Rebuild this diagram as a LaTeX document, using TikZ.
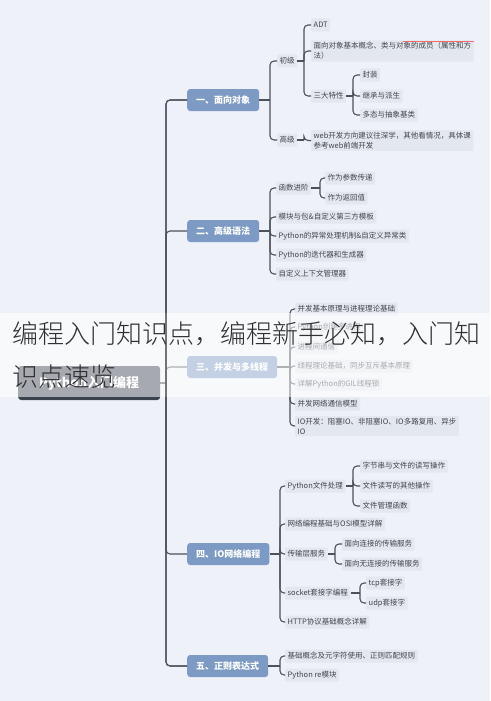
\documentclass[tikz,border=0pt]{standalone}
\usepackage{fontspec}
\setmainfont{Noto Sans CJK SC}
\IfFontExistsTF{Noto Sans CJK SC Light}
  {\newfontfamily\titlefont{Noto Sans CJK SC Light}}
  {\newfontfamily\titlefont{Noto Sans CJK SC}}
\usepackage{tikz}
\usetikzlibrary{calc}

\definecolor{bgc}{RGB}{238,242,248}
\definecolor{leafc}{RGB}{227,231,238}
\definecolor{secc}{RGB}{125,154,196}
\definecolor{rootc}{RGB}{58,66,80}
\definecolor{linec}{RGB}{76,81,90}
\definecolor{txtc}{RGB}{68,70,76}
\definecolor{ttlc}{RGB}{48,48,50}

\newcommand\fork[3]{%
  \draw[link] (#1.east) -- (#1.east -| #2);
  \foreach \c in {#3} {\draw[link] (#1.east -| #2) |- (\c.west);}}

\begin{document}
\begin{tikzpicture}[x=1pt,y=-1pt,
  leaf/.style={anchor=west,fill=leafc,text=txtc,font=\fontsize{7.5}{10}\selectfont,
    inner xsep=2.5pt,inner ysep=2pt,minimum height=13pt,rounded corners=1pt,align=left},
  sec/.style={anchor=west,fill=secc,text=white,font=\fontsize{9}{11}\selectfont\bfseries,
    rounded corners=3pt,minimum height=22pt,inner xsep=9pt},
  rootbox/.style={anchor=west,fill=rootc,text=white,font=\fontsize{13}{15}\selectfont\bfseries,
    rounded corners=3pt,minimum width=142pt,minimum height=34pt},
  link/.style={draw=linec,line width=1.1pt,rounded corners=4pt},
  ttl/.style={anchor=base west,inner sep=0pt,text=ttlc,font=\titlefont\fontsize{26}{30}\selectfont}]
  \fill[bgc] (0,0) rectangle (490,701);
  \useasboundingbox (0,0) rectangle (490,701);

  \node[rootbox] (root) at (18,383) {Python入门编程};
  \node[sec] (s1) at (187,100) {一、面向对象};
  \node[sec] (s2) at (187,231) {二、高级语法};
  \node[sec] (s3) at (187,367) {三、并发与多线程};
  \node[sec] (s4) at (187,554) {四、IO网络编程};
  \node[sec] (s5) at (187,666) {五、正则表达式};

  \coordinate (kt) at (166,0);
  \draw[link] (root.east) -- (root.east -| kt);
  \foreach \s in {s1,s2,s3,s4,s5} \draw[link] (root.east -| kt) |- (\s.west);

  \node[leaf] (chu) at (277,61) {初级};
  \node[leaf] (gao) at (277,140) {高级};
  \node[leaf] (adt) at (311,25) {ADT};
  \node[leaf] (gn) at (311,51) {面向对象基本概念、类与对象的成员（属性和方\\法）};
  \node[leaf] (tx) at (311,96) {三大特性};
  \node[leaf] (fz) at (360,75) {封装};
  \node[leaf] (jc) at (360,96) {继承与派生};
  \node[leaf] (dt) at (360,115) {多态与抽象基类};
  \node[leaf] (web) at (311,140.5) {web开发方向建议往深学，其他看情况，具体课\\参考web前端开发};
  \draw[red!45!pink,line width=0.6pt] (gn.north east) ++(0,1) -- ++(-71,0);

  \node[leaf] (hs) at (276,188) {函数进阶};
  \node[leaf] (cs) at (325,178) {作为参数传递};
  \node[leaf] (fh) at (325,198) {作为返回值};
  \node[leaf] (mk) at (276,217) {模块与包\&自定义第三方模板};
  \node[leaf] (yc) at (276,236) {Python的异常处理机制\&自定义异常类};
  \node[leaf] (ddq) at (276,255) {Python的迭代器和生成器};
  \node[leaf] (sxw) at (276,274) {自定义上下文管理器};

  \node[leaf] (bf) at (295,309) {并发基本原理与进程理论基础};
  \node[leaf] (jc3) at (295,327) {Python创建多进程};
  \node[leaf] (tx3) at (295,347) {进程间通信};
  \node[leaf] (xc) at (295,366) {线程理论基础，同步互斥基本原理};
  \node[leaf] (gil) at (295,384) {详解Python的GIL线程锁};
  \node[leaf] (wl) at (295,404) {并发网络通信模型};
  \node[leaf] (io) at (295,426) {IO开发：阻塞IO、非阻塞IO、IO多路复用、异步\\IO};

  \node[leaf] (wj) at (285,486) {Python文件处理};
  \node[leaf] (zj) at (360,466) {字节串与文件的读写操作};
  \node[leaf] (qt) at (360,486) {文件读写的其他操作};
  \node[leaf] (gl) at (360,506) {文件管理函数};
  \node[leaf] (osi) at (285,524) {网络编程基础与OSI模型详解};
  \node[leaf] (csc) at (285,554) {传输层服务};
  \node[leaf] (mx) at (342,544) {面向连接的传输服务};
  \node[leaf] (wx) at (342,564) {面向无连接的传输服务};
  \node[leaf] (skt) at (285,593) {socket套接字编程};
  \node[leaf] (tcp) at (366,583) {tcp套接字};
  \node[leaf] (udp) at (366,603) {udp套接字};
  \node[leaf] (http) at (285,622) {HTTP协议基础概念详解};

  \node[leaf] (ys) at (285,656) {基础概念及元字符使用、正则匹配规则};
  \node[leaf] (re) at (285,675) {Python re模块};

  \coordinate (k1) at (270,0);
  \coordinate (k11) at (304,0);
  \coordinate (k12) at (353,0);
  \coordinate (k21) at (320,0);
  \coordinate (k3) at (290,0);
  \coordinate (k4) at (280,0);
  \coordinate (k41) at (353,0);
  \coordinate (k42) at (335,0);
  \coordinate (k43) at (360,0);
  \fork{s1}{k1}{chu,gao}
  \fork{chu}{k11}{adt,gn,tx}
  \fork{tx}{k12}{fz,jc,dt}
  \fork{gao}{k11}{web}
  \fork{s2}{k1}{hs,mk,yc,ddq,sxw}
  \fork{hs}{k21}{cs,fh}
  \fork{s3}{k3}{bf,jc3,tx3,xc,gil,wl,io}
  \fork{s4}{k4}{wj,osi,csc,skt,http}
  \fork{wj}{k41}{zj,qt,gl}
  \fork{csc}{k42}{mx,wx}
  \fork{skt}{k43}{tcp,udp}
  \fork{s5}{k4}{ys,re}

  \fill[white,opacity=0.55] (0,313) rectangle (490,397);
  \draw[link] (root.east -| kt) |- (s1.west);
  \draw[link] (root.east -| kt) |- (s5.west);
  \node[ttl] (t1) at (12,343) {编程入门知识点，编程新手必知，入门知};
  \node[ttl] (t2) at (12,386) {识点速览};
\end{tikzpicture}
\end{document}
